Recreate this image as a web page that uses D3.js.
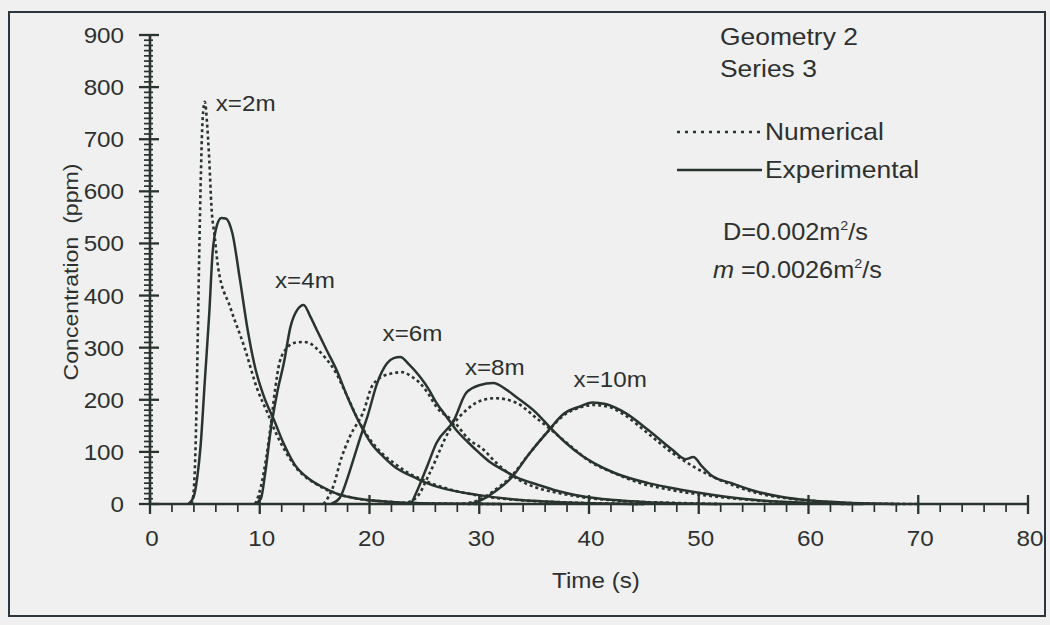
<!DOCTYPE html>
<html>
<head>
<meta charset="utf-8">
<script src="https://cdn.jsdelivr.net/npm/d3@7"></script>
<style>
  body { margin: 0; background: #eff0ef; }
  text { font-family: "Liberation Sans", Arial, sans-serif; fill: #2e302f; }
</style>
</head>
<body>
<div id="container"></div>
<script>
// [time (s), concentration (ppm)]
const num2 = [[3.8,0],[4.0,30],[4.2,150],[4.4,380],[4.6,600],[4.8,740],[5.0,772],[5.2,730],[5.4,660],[5.6,570],[5.9,512],[6.2,455],[7.3,378],[8.6,301],[9.8,219],[10.7,175],[11.5,135],[12.5,95],[13.5,65],[15,40],[17,20],[19,10],[22,4],[26,1],[32,0]];
const exp2 = [[3.5,0],[4.0,15],[4.3,50],[4.6,109],[5.0,238],[5.4,366],[5.7,481],[6.1,535],[6.5,549],[6.9,548],[7.5,520],[8.2,430],[8.9,334],[9.6,260],[10.4,205],[11.3,161],[12.2,115],[13.2,75],[14.5,48],[15.5,35],[17,20],[19,10],[22,4],[26,1],[32,0]];
const num4 = [[9.6,0],[10.1,33],[10.6,90],[11.0,150],[11.4,220],[11.8,271],[12.5,300],[13.1,309],[14.0,311],[14.6,308],[15.2,298],[16.0,280],[16.8,257],[17.9,210],[19.0,160],[20.0,125],[21.0,100],[22.2,79],[23.5,60],[25,45],[27,30],[30,16],[34,7],[38,3],[45,0]];
const exp4 = [[9.5,0],[10.1,10],[10.5,60],[11.0,142],[11.6,215],[12.2,271],[12.8,340],[13.4,372],[14.0,382],[14.6,360],[15.2,334],[16.1,295],[17.0,257],[18.0,205],[19.1,155],[20.2,115],[21.3,90],[22.5,68],[23.7,55],[25,42],[26.7,30],[29.7,18],[33,9],[38,3],[45,0]];
const num6 = [[15.8,0],[16.3,15],[16.8,40],[17.3,79],[18.2,129],[19.5,180],[20.2,225],[20.7,238],[21.9,250],[23,253],[23.8,245],[24.6,232],[25.4,210],[26.1,186],[27.7,158],[29,125],[30.4,104],[31.5,80],[32.7,59],[34,42],[35,33],[37,22],[39.4,13],[43,6],[48,2],[52,0]];
const exp6 = [[16.5,0],[17.3,12],[18.0,50],[18.6,90],[19.2,130],[19.8,167],[20.7,232],[21.6,270],[22.2,280],[22.8,282],[23.6,268],[24.6,244],[25.4,220],[26.1,194],[27.0,168],[27.9,142],[29,118],[30,98],[31,80],[32.2,65],[33.5,50],[35.2,38],[37,26],[39.4,15],[42,8],[46,3],[52,0]];
const num8 = [[23,0],[24.3,13],[25.5,60],[27.3,142],[28.8,180],[30.4,200],[31.5,203],[33.4,194],[35.2,165],[36.8,138],[38.5,108],[40.2,80],[42,62],[44.7,40],[47.5,27],[50.5,17],[54,9],[58,3],[64,0]];
const exp8 = [[23.8,0],[24.5,33],[25.3,75],[26.1,117],[27.7,161],[28.8,213],[30,228],[31.3,232],[32.3,222],[33.4,205],[35.2,175],[36.4,148],[37.9,117],[39.4,92],[40.5,78],[42.4,59],[45.4,40],[48.5,27],[51.5,17],[55,8],[60,2],[65,0]];
const num10 = [[28.5,0],[30,8],[31.5,28],[33,55],[34.5,95],[36.2,138],[37.7,170],[39.3,186],[40.5,190],[42,185],[43.3,170],[45.4,135],[47.6,98],[49.5,72],[51.5,50],[53.5,33],[55.5,20],[58,11],[61,5],[65,1],[70,0]];
const exp10 = [[29,0],[29.8,4],[31.5,25],[33,52],[34.5,95],[36.2,138],[37.7,173],[39.3,188],[40.3,195],[41.5,192],[43.3,175],[45.4,142],[47.6,104],[48.8,86],[49.5,90],[50.3,72],[51.2,54],[53,40],[55.1,25],[57.5,14],[60,7],[64,2],[68,0]];

const numerical = [num2, num4, num6, num8, num10];
const experimental = [exp2, exp4, exp6, exp8, exp10];
const curveLabels = ["x=2m", "x=4m", "x=6m", "x=8m", "x=10m"];
const labelPos = [[5.9,770],[11.3,430],[21.1,328],[28.6,262],[38.5,240]];

const xTicks = [0,10,20,30,40,50,60,70,80];
const yTicks = [0,100,200,300,400,500,600,700,800,900];

const WIDTH = 1050, HEIGHT = 625;
const ink = "#2a342f";
const stretch = 1.1;

let svg = d3.select("#container").append("svg")
  .attr("width", WIDTH).attr("height", HEIGHT);

svg.append("rect")
  .attr("x", 9).attr("y", 12).attr("width", 1036).attr("height", 604)
  .attr("fill", "none").attr("stroke", "#2b3540").attr("stroke-width", 2);

const x = d3.scaleLinear().domain([0, 80]).range([150, 1028]);
const y = d3.scaleLinear().domain([0, 900]).range([504, 35]);

// text helper: slightly wide lettering as in the scan
function txt(px, py, str, size, anchor, rot) {
  return svg.append("text")
    .attr("transform", `translate(${px},${py})` + (rot ? ` rotate(${rot})` : "") + ` scale(${stretch},1)`)
    .attr("font-size", size)
    .attr("text-anchor", anchor || "start")
    .text(str);
}

// y axis
let yMinor = d3.range(0, 901, 10).filter(d => d % 100 != 0);
svg.append("line").attr("x1", x(0)).attr("x2", x(0)).attr("y1", y(900)).attr("y2", y(0))
  .attr("stroke", ink).attr("stroke-width", 2.6);
svg.selectAll(".ymin").data(yMinor).enter().append("line")
  .attr("x1", x(0) - 6).attr("x2", x(0) + 3)
  .attr("y1", d => y(d)).attr("y2", d => y(d))
  .attr("stroke", ink).attr("stroke-width", 1.7);
svg.selectAll(".ymaj").data(yTicks).enter().append("line")
  .attr("x1", x(0) - 11).attr("x2", x(0) + 9)
  .attr("y1", d => y(d)).attr("y2", d => y(d))
  .attr("stroke", ink).attr("stroke-width", 2.3);
yTicks.forEach(d => txt(124, y(d) + 8, d, 22, "end"));

// x axis
let xMinor = d3.range(0, 81, 2).filter(d => d % 10 != 0);
svg.append("line").attr("x1", x(0)).attr("x2", x(80)).attr("y1", y(0)).attr("y2", y(0))
  .attr("stroke", ink).attr("stroke-width", 2.6);
svg.selectAll(".xmin").data(xMinor).enter().append("line")
  .attr("x1", d => x(d)).attr("x2", d => x(d))
  .attr("y1", y(0)).attr("y2", y(0) + 8)
  .attr("stroke", ink).attr("stroke-width", 1.7);
svg.selectAll(".xmaj").data(xTicks).enter().append("line")
  .attr("x1", d => x(d)).attr("x2", d => x(d))
  .attr("y1", y(0) - 9).attr("y2", y(0) + 10)
  .attr("stroke", ink).attr("stroke-width", 2.3);
xTicks.forEach(d => txt(x(d) + 2, 546, d, 22, "middle"));

txt(596, 588, "Time (s)", 22, "middle");
txt(78, 272, "Concentration\u00a0\u00a0(ppm)", 21, "middle", -90);

// curves
const line = d3.line().x(d => x(d[0])).y(d => y(d[1])).curve(d3.curveMonotoneX);

svg.selectAll(".exp").data(experimental).enter().append("path")
  .attr("d", line).attr("fill", "none")
  .attr("stroke", ink).attr("stroke-width", 2.5);

svg.selectAll(".num").data(numerical).enter().append("path")
  .attr("d", line).attr("fill", "none")
  .attr("stroke", ink).attr("stroke-width", 2.6)
  .attr("stroke-dasharray", "3,3");

curveLabels.forEach((s, i) => txt(x(labelPos[i][0]) + 1, y(labelPos[i][1]) + 8, s, 22));

// annotation + legend
txt(720, 45, "Geometry 2", 24);
txt(720, 77, "Series 3", 24);
svg.append("line").attr("x1", 677).attr("x2", 763).attr("y1", 132).attr("y2", 132)
  .attr("stroke", ink).attr("stroke-width", 2.6).attr("stroke-dasharray", "3,5");
txt(765, 140, "Numerical", 24);
svg.append("line").attr("x1", 677).attr("x2", 762).attr("y1", 170).attr("y2", 170)
  .attr("stroke", ink).attr("stroke-width", 2.6);
txt(765, 178, "Experimental", 24);

let d1 = txt(723, 240, "", 23);
d1.append("tspan").text("D=0.002m");
d1.append("tspan").attr("font-size", 13).attr("dy", -10).text("2");
d1.append("tspan").attr("dy", 10).text("/s");
let d2 = txt(713, 278, "", 23);
d2.append("tspan").attr("font-style", "italic").text("m");
d2.append("tspan").text(" =0.0026m");
d2.append("tspan").attr("font-size", 13).attr("dy", -10).text("2");
d2.append("tspan").attr("dy", 10).text("/s");
</script>
</body>
</html>
